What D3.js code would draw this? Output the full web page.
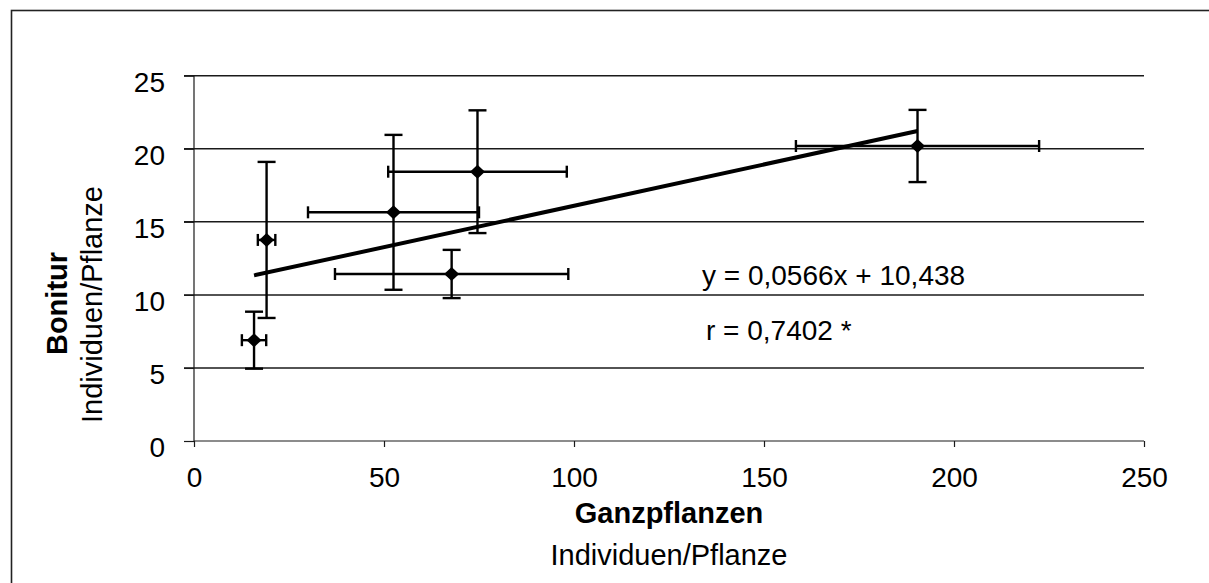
<!DOCTYPE html>
<html>
<head>
<meta charset="utf-8">
<script src="https://cdn.jsdelivr.net/npm/d3@7/dist/d3.min.js"></script>
<style>
  html, body { margin: 0; padding: 0; background: #fff; }
  svg { display: block; font-family: "Liberation Sans", Arial, Helvetica, sans-serif; }
</style>
</head>
<body>
<svg id="chart" width="1209" height="583"></svg>
<script>
// Ganzpflanzen vs. Bonitur, means with standard deviations
const ganzpflanzen   = [15.8, 19.1, 52.5, 74.6, 67.8, 190.4];
const bonitur        = [6.9, 13.76, 15.65, 18.43, 11.43, 20.19];
const ganzpflanzenSD = [3.2, 2.3, 22.5, 23.5, 30.7, 32.0];
const boniturSD      = [1.95, 5.34, 5.3, 4.2, 1.65, 2.47];

const slope = 0.0566;
const intercept = 10.438;
const equationLabel = "y = 0,0566x + 10,438";
const correlationLabel = "r = 0,7402 *";

const xTickValues = [0, 50, 100, 150, 200, 250];
const yTickValues = [0, 5, 10, 15, 20, 25];

const svg = d3.select("#chart");

const x = d3.scaleLinear().domain([0, 250]).range([194, 1144]);
const y = d3.scaleLinear().domain([0, 25]).range([441, 75.7]);

// outer frame
svg.append("rect")
  .attr("x", 11.5).attr("y", 10.5)
  .attr("width", 1209).attr("height", 583)
  .attr("fill", "none").attr("stroke", "#222").attr("stroke-width", 1.6);

// horizontal gridlines (with outward ticks)
svg.append("g")
  .selectAll("line")
  .data(yTickValues.filter(d => d > 0))
  .join("line")
  .attr("x1", x(0) - 10).attr("x2", x(250))
  .attr("y1", d => y(d)).attr("y2", d => y(d))
  .attr("stroke", "#1a1a1a").attr("stroke-width", 1.5);

// y axis
const yAxis = svg.append("g")
  .attr("transform", `translate(${x(0)},0)`)
  .call(d3.axisLeft(y).tickValues(yTickValues).tickSize(10).tickPadding(19).tickFormat(d3.format("d")));
yAxis.select(".domain").attr("stroke", "#1a1a1a").attr("stroke-width", 1.2)
  .attr("d", `M0,${y(25)}V${y(0)}`);
yAxis.selectAll(".tick line").attr("stroke", "#1a1a1a").attr("stroke-width", 1.2);
yAxis.selectAll(".tick text")
  .attr("font-size", 28).attr("fill", "#000").attr("dy", "0.92em")
  .attr("font-family", "'Liberation Sans', Arial, sans-serif")
  .attr("y", -10);

// x axis
const xAxis = svg.append("g")
  .attr("transform", `translate(0,${y(0)})`)
  .call(d3.axisBottom(x).tickValues(xTickValues).tickSize(6).tickPadding(20).tickFormat(d3.format("d")));
xAxis.select(".domain").attr("stroke", "#1a1a1a").attr("stroke-width", 1.2)
  .attr("d", `M${x(0)},0H${x(250)}`);
xAxis.selectAll(".tick line").attr("stroke", "#1a1a1a").attr("stroke-width", 1.2);
xAxis.selectAll(".tick text")
  .attr("font-size", 28).attr("fill", "#000")
  .attr("font-family", "'Liberation Sans', Arial, sans-serif");

const points = ganzpflanzen.map((gx, i) => ({
  x: gx, y: bonitur[i], sx: ganzpflanzenSD[i], sy: boniturSD[i]
}));

// error bars
const err = svg.append("g").attr("stroke", "#000").attr("stroke-width", 2.4).attr("fill", "none");
points.forEach(p => {
  // vertical
  err.append("line").attr("x1", x(p.x)).attr("x2", x(p.x)).attr("y1", y(p.y - p.sy)).attr("y2", y(p.y + p.sy));
  err.append("line").attr("x1", x(p.x) - 9).attr("x2", x(p.x) + 9).attr("y1", y(p.y + p.sy)).attr("y2", y(p.y + p.sy));
  err.append("line").attr("x1", x(p.x) - 9).attr("x2", x(p.x) + 9).attr("y1", y(p.y - p.sy)).attr("y2", y(p.y - p.sy));
  // horizontal
  err.append("line").attr("x1", x(p.x - p.sx)).attr("x2", x(p.x + p.sx)).attr("y1", y(p.y)).attr("y2", y(p.y));
  err.append("line").attr("x1", x(p.x - p.sx)).attr("x2", x(p.x - p.sx)).attr("y1", y(p.y) - 6).attr("y2", y(p.y) + 6);
  err.append("line").attr("x1", x(p.x + p.sx)).attr("x2", x(p.x + p.sx)).attr("y1", y(p.y) - 6).attr("y2", y(p.y) + 6);
});

// linear trend line
const xMin = d3.min(ganzpflanzen), xMax = d3.max(ganzpflanzen);
svg.append("line")
  .attr("x1", x(xMin)).attr("y1", y(slope * xMin + intercept))
  .attr("x2", x(xMax)).attr("y2", y(slope * xMax + intercept))
  .attr("stroke", "#000").attr("stroke-width", 4);

// diamond markers
svg.append("g")
  .selectAll("path")
  .data(points)
  .join("path")
  .attr("d", p => {
    const cx = x(p.x), cy = y(p.y), w = 7.5, h = 7;
    return `M${cx},${cy - h}L${cx + w},${cy}L${cx},${cy + h}L${cx - w},${cy}Z`;
  })
  .attr("fill", "#000");

// regression annotations
svg.append("text")
  .attr("x", 702).attr("y", 285)
  .attr("font-size", 28).attr("fill", "#000")
  .text(equationLabel);
svg.append("text")
  .attr("x", 706).attr("y", 340)
  .attr("font-size", 28).attr("fill", "#000")
  .text(correlationLabel);

// x axis title
svg.append("text")
  .attr("x", (x(0) + x(250)) / 2).attr("y", 522.5)
  .attr("text-anchor", "middle").attr("font-size", 29).attr("font-weight", "bold")
  .text("Ganzpflanzen");
svg.append("text")
  .attr("x", (x(0) + x(250)) / 2).attr("y", 565)
  .attr("text-anchor", "middle").attr("font-size", 29)
  .text("Individuen/Pflanze");

// y axis title
svg.append("text")
  .attr("transform", "translate(66.5,303.5) rotate(-90)")
  .attr("text-anchor", "middle").attr("font-size", 29).attr("font-weight", "bold")
  .text("Bonitur");
svg.append("text")
  .attr("transform", "translate(101.5,304.5) rotate(-90)")
  .attr("text-anchor", "middle").attr("font-size", 29)
  .text("Individuen/Pflanze");
</script>
</body>
</html>
